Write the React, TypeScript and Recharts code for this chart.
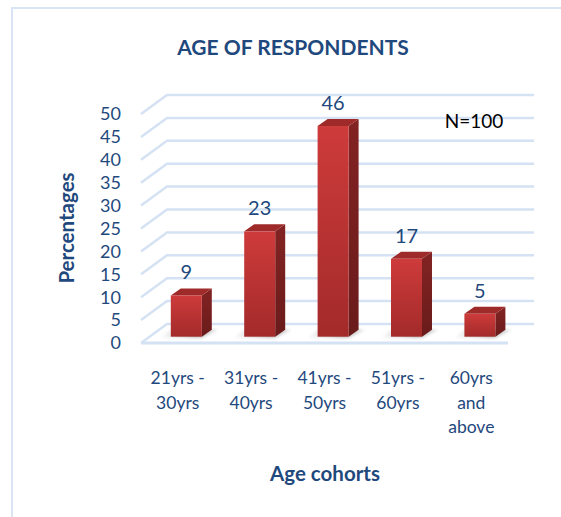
import React from 'react';
import { BarChart, Bar, XAxis, YAxis, CartesianGrid, LabelList, ReferenceLine } from 'recharts';

const categories = ['21yrs -\n30yrs', '31yrs -\n40yrs', '41yrs -\n50yrs', '51yrs -\n60yrs', '60yrs\nand\nabove'];
const percentages = [9, 23, 46, 17, 5];
const yTicks = [0, 5, 10, 15, 20, 25, 30, 35, 40, 45, 50];
const chartTitle = 'AGE OF RESPONDENTS';
const xTitle = 'Age cohorts';
const yTitle = 'Percentages';
const note = 'N=100';

const data = categories.map((c, i) => ({ cat: c, value: percentages[i] }));

const FONT = "Lato, 'Open Sans', sans-serif";
const TEXT = '#1F497D';
const GRID = '#D5E2F3';
const FLOOR_DX = 26;
const FLOOR_DY = -19;
const BAR_OX = 8.8;
const BAR_OY = -6.3;
const BAR_DX = 10;
const BAR_DY = -7;

const GridLine = (props: any) => {
  const { x1, y1, x2 } = props;
  const d = `M${x1},${y1} L${x1 + FLOOR_DX},${y1 + FLOOR_DY} L${x2 + FLOOR_DX},${y1 + FLOOR_DY}`;
  return <path key={`g-${y1}`} d={d} stroke={GRID} strokeWidth={2.5} fill="none" />;
};

const Bar3D = (props: any) => {
  const { x, y, width, height } = props;
  if (width == null || height == null) return null;
  const fx = x + BAR_OX;
  const fy = y + BAR_OY;
  const w = width;
  const h = height;
  const bottom = fy + h;
  return (
    <g>
      <polygon
        points={`${fx - 10},${bottom + 1} ${fx + w},${bottom + 1} ${fx + w + BAR_DX + 6},${bottom + BAR_DY} ${fx},${bottom + BAR_DY}`}
        fill="url(#shadowGrad)"
        filter="url(#blur)"
      />
      <polygon
        points={`${fx + w},${fy} ${fx + w + BAR_DX},${fy + BAR_DY} ${fx + w + BAR_DX},${bottom + BAR_DY} ${fx + w},${bottom}`}
        fill="url(#sideGrad)"
      />
      <polygon
        points={`${fx},${fy} ${fx + BAR_DX},${fy + BAR_DY} ${fx + w + BAR_DX},${fy + BAR_DY} ${fx + w},${fy}`}
        fill="#9F2A2A"
      />
      <rect x={fx} y={fy} width={w} height={h} fill="url(#frontGrad)" />
    </g>
  );
};

const ValueLabel = (props: any) => {
  const { x, y, width, value } = props;
  return (
    <text
      x={x + width / 2 + BAR_OX}
      y={y + BAR_OY - 16}
      textAnchor="middle"
      fill={TEXT}
      fontSize={20}
      fontFamily={FONT}
    >
      {value}
    </text>
  );
};

const CategoryTick = (props: any) => {
  const { x, y, payload } = props;
  const lines = String(payload.value).split('\n');
  return (
    <g>
      {lines.map((ln, i) => (
        <text
          key={i}
          x={x}
          y={y + 41 + i * 24.5}
          textAnchor="middle"
          fill={TEXT}
          fontSize={17.5}
          fontFamily={FONT}
        >
          {ln}
        </text>
      ))}
    </g>
  );
};

export default function App() {
  return (
    <div style={{ position: 'absolute', left: 0, top: 0, width: 561, height: 517, background: '#fff', fontFamily: FONT }}>
      <div style={{ position: 'absolute', left: 11, top: 7, width: 550, height: 2, background: '#D9E5F4' }} />
      <div style={{ position: 'absolute', left: 11, top: 7, width: 2, height: 510, background: '#D9E5F4' }} />
      <BarChart
        width={561}
        height={517}
        data={data}
        margin={{ top: 114, right: 53, bottom: 34, left: 0 }}
        barSize={31}
        style={{ position: 'absolute', left: 0, top: 0 }}
      >
        <defs>
          <linearGradient id="frontGrad" x1="0" y1="0" x2="0" y2="1">
            <stop offset="0%" stopColor="#CE3B3B" />
            <stop offset="100%" stopColor="#A32A2A" />
          </linearGradient>
          <linearGradient id="sideGrad" x1="0" y1="0" x2="0" y2="1">
            <stop offset="0%" stopColor="#832323" />
            <stop offset="100%" stopColor="#6A1B1B" />
          </linearGradient>
          <linearGradient id="shadowGrad" x1="0" y1="0" x2="1" y2="0">
            <stop offset="0%" stopColor="#BBBBBB" stopOpacity={0.1} />
            <stop offset="60%" stopColor="#888888" stopOpacity={0.6} />
            <stop offset="100%" stopColor="#888888" stopOpacity={0.3} />
          </linearGradient>
          <filter id="blur" x="-50%" y="-50%" width="200%" height="200%">
            <feGaussianBlur stdDeviation="1.5" />
          </filter>
        </defs>
        <CartesianGrid vertical={false} horizontal={GridLine} />
        <ReferenceLine y={0} stroke={GRID} strokeWidth={3} />
        <XAxis
          dataKey="cat"
          axisLine={false}
          tickLine={false}
          tickSize={0}
          tickMargin={0}
          height={140}
          interval={0}
          tick={<CategoryTick />}
        />
        <YAxis
          domain={[0, 50]}
          ticks={yTicks}
          interval={0}
          axisLine={false}
          tickLine={false}
          tickSize={0}
          tickMargin={20}
          width={141}
          tick={{ fill: TEXT, fontSize: 18, fontFamily: FONT }}
        />
        <Bar dataKey="value" shape={<Bar3D />} isAnimationActive={false}>
          <LabelList dataKey="value" content={<ValueLabel />} />
        </Bar>
      </BarChart>
      <div style={{ position: 'absolute', left: 293, top: 46, transform: 'translate(-50%, -50%)', whiteSpace: 'nowrap', color: TEXT, fontWeight: 700, fontSize: 21, fontFamily: FONT }}>
        {chartTitle}
      </div>
      <div style={{ position: 'absolute', left: 474, top: 120, transform: 'translate(-50%, -50%)', whiteSpace: 'nowrap', color: '#000', fontSize: 19, fontFamily: FONT }}>
        {note}
      </div>
      <div style={{ position: 'absolute', left: 325, top: 473, transform: 'translate(-50%, -50%)', whiteSpace: 'nowrap', color: TEXT, fontWeight: 700, fontSize: 20.5, fontFamily: FONT }}>
        {xTitle}
      </div>
      <div style={{ position: 'absolute', left: 66, top: 228, transform: 'translate(-50%, -50%) rotate(-90deg)', whiteSpace: 'nowrap', color: TEXT, fontWeight: 700, fontSize: 20.5, fontFamily: FONT }}>
        {yTitle}
      </div>
    </div>
  );
}
